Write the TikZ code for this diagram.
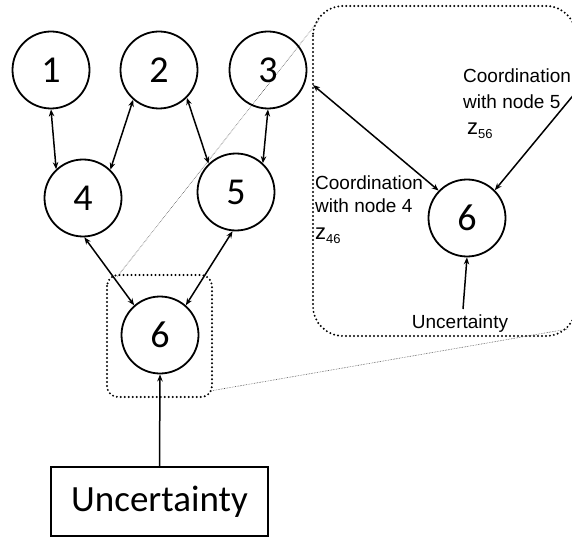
\documentclass[tikz,border=0pt]{standalone}
\usepackage{fontspec}
\setmainfont{Carlito}
\newfontfamily\arialfont{Liberation Sans}
\usetikzlibrary{arrows.meta}

\begin{document}
\begin{tikzpicture}[x=1pt,y=-1pt,
  agent/.style={circle,draw,line width=1.8pt,minimum size=77pt,inner sep=0pt,
    font=\fontsize{38}{40}\selectfont},
  link/.style={line width=1.5pt,{Stealth[length=7pt,width=5.5pt]}-{Stealth[length=7pt,width=5.5pt]}},
  feed/.style={line width=1.5pt,-{Stealth[length=7pt,width=5.5pt]}},
  zoomframe/.style={line width=2.2pt,line cap=round,dash pattern=on 0pt off 4pt},
  zoomray/.style={line width=0.6pt,black!70,densely dotted},
  note/.style={font=\arialfont\fontsize{19}{24}\selectfont,inner sep=0pt,anchor=base west},
  zvar/.style={font=\arialfont\fontsize{22}{24}\selectfont,inner sep=0pt,anchor=base west}
]
\useasboundingbox (0,0) rectangle (572,537);

% dotted frames: the detail around node 6 and its enlarged view
\draw[zoomframe,rounded corners=11pt] (107,275) rectangle (212,397);
\draw[zoomframe,rounded corners=30pt] (313,6) rectangle (576,336);
\coordinate (detTL) at (117,277);
\coordinate (detBR) at (210,391);
\coordinate (bigTL) at (319,20);
\coordinate (bigBR) at (568,329);
\draw[zoomray] (detTL) -- (bigTL);
\draw[zoomray] (detBR) -- (bigBR);

% network
\node[agent] (n1) at (51,70) {1};
\node[agent] (n2) at (159,70) {2};
\node[agent] (n3) at (268,70) {3};
\node[agent] (n4) at (83,198) {4};
\node[agent] (n5) at (236,192) {5};
\node[agent] (n6) at (160,335) {6};
\node[draw,line width=1.5pt,minimum width=217pt,minimum height=69pt,inner sep=0pt,
  font=\fontsize{37}{40}\selectfont] (unc) at (159.5,501.5) {Uncertainty};

\draw[link] (n1.270) -- (n4.133);
\draw[link] (n2.229) -- (n4.46);
\draw[link] (n2.315) -- (n5.134);
\draw[link] (n3.270) -- (n5.47);
\draw[link] (n4.272) -- (n6.131);
\draw[link] (n5.265) -- (n6.49);
\draw[feed] (unc.north) -- (n6.south);

% enlarged view of node 6
\node[agent] (z6) at (467,218) {6};
\coordinate (edge3) at (313,85);
\coordinate (from5) at (576,92);
\coordinate (noise) at (463,309);
\draw[link] (edge3) -- (z6.136);
\draw[feed] (from5) -- (z6.45);
\draw[feed] (noise) -- (z6.270);

\node[note] (c5a) at (463,83) {Coordination};
\node[note] (c5b) at (463,109) {with node 5};
\node[zvar] (z56) at (467,135) {z\raisebox{-4pt}{\fontsize{13}{13}\selectfont 56}};
\node[note] (c4a) at (315,190) {Coordination};
\node[note] (c4b) at (315,213) {with node 4};
\node[zvar] (z46) at (315,240) {z\raisebox{-4pt}{\fontsize{13}{13}\selectfont 46}};
\node[note,anchor=base] (uncs) at (460,328) {Uncertainty};
\end{tikzpicture}
\end{document}
